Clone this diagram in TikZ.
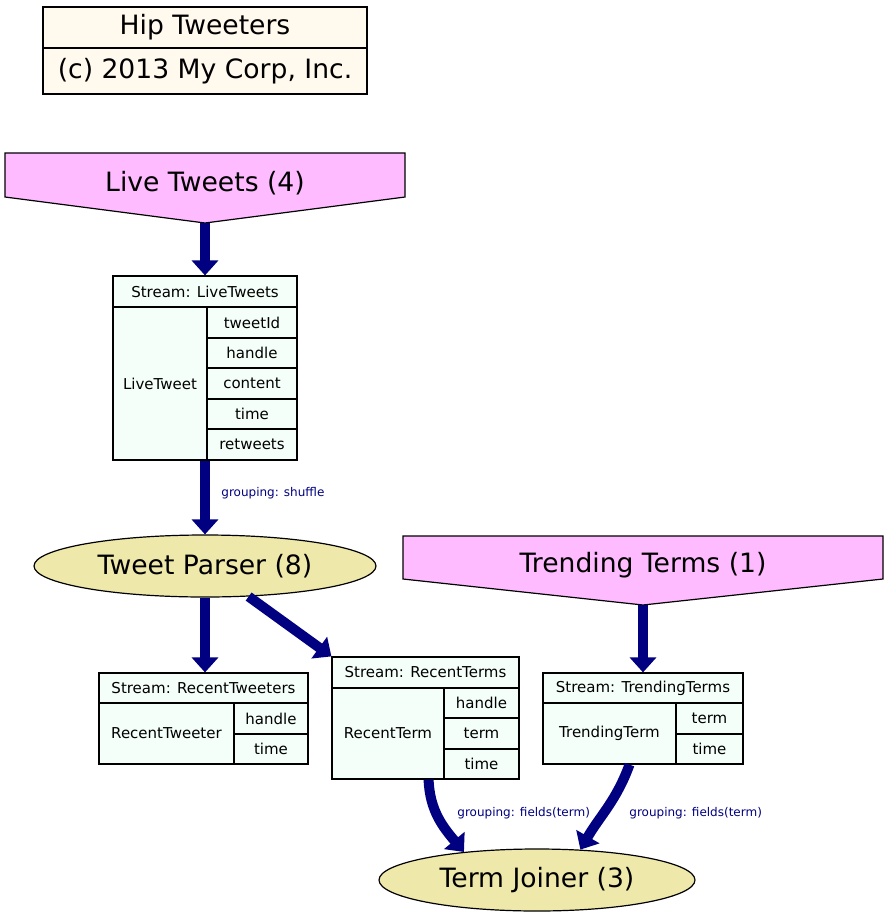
\documentclass[tikz,border=0pt]{standalone}
\usepackage{fontspec}
\setmainfont{DejaVu Sans}
\usetikzlibrary{arrows.meta,shapes.geometric}
\definecolor{plum}{HTML}{FFBBFF}
\definecolor{mint}{HTML}{F5FFFA}
\definecolor{gold}{HTML}{EEE8AA}
\definecolor{cream}{HTML}{FFF9EE}
\definecolor{navyblue}{HTML}{000080}
\tikzset{
  big/.style={font=\fontsize{13.3}{16}\selectfont},
  recbox/.style={draw, fill=mint, inner sep=0pt, line width=0.6pt, font=\fontsize{7.5}{9}\selectfont},
  titlebox/.style={draw, fill=cream, inner sep=0pt, line width=0.6pt, big},
  spout/.style={draw, fill=plum, line width=0.6pt},
  bolt/.style={ellipse, draw, fill=gold, inner sep=0pt, line width=0.6pt, big},
  flow/.style={navyblue, line width=5pt, -{Triangle[length=7.5pt,width=13pt]}},
  grp/.style={navyblue, font=\fontsize{6}{7}\selectfont, anchor=west, inner sep=0pt},
}
% one cell of a record: name, x1, y1, x2, y2, text
\newcommand{\recfield}[6]{%
  \node[recbox, minimum width={(#4-#2)*0.5pt}, minimum height={(#5-#3)*0.5pt}]
    (#1) at ({(#2+#4)/2},{(#3+#5)/2}) {#6};}
\begin{document}
\begin{tikzpicture}[x=0.5pt, y=-0.5pt]
\useasboundingbox (0,0) rectangle (888,917);
% titolo
\node[titlebox, minimum width=162pt, minimum height=20.5pt] (title) at (205,27.5) {Hip Tweeters};
\node[titlebox, minimum width=162pt, minimum height=23pt] (corp) at (205,71) {(c) 2013 My Corp, Inc.};
% spouts
\draw[spout] (5,153) -- (405,153) -- (405,197) -- (205,223) -- (5,197) -- cycle;
\node[big] (live) at (205,183) {Live Tweets (4)};
\coordinate (liveTip) at (205,223);
\draw[spout] (403,536) -- (883,536) -- (883,579) -- (643,605) -- (403,579) -- cycle;
\node[big] (trending) at (643,565) {Trending Terms (1)};
\coordinate (trendTip) at (643,605);
% stream LiveTweets
\recfield{ltHead}{113}{276}{297}{307}{Stream: LiveTweets}
\recfield{ltLeft}{113}{307}{207}{460}{LiveTweet}
\recfield{ltId}{207}{307}{297}{338}{tweetId}
\recfield{ltHandle}{207}{338}{297}{368}{handle}
\recfield{ltContent}{207}{368}{297}{399}{content}
\recfield{ltTime}{207}{399}{297}{429}{time}
\recfield{ltRetweets}{207}{429}{297}{460}{retweets}
% bolts
\node[bolt, minimum width=171pt, minimum height=31pt] (parser) at (205,566) {Tweet Parser (8)};
\node[bolt, minimum width=158pt, minimum height=31pt] (joiner) at (537,880) {Term Joiner (3)};
% stream RecentTweeters
\recfield{rwHead}{99}{673}{308}{703}{Stream: RecentTweeters}
\recfield{rwLeft}{99}{703}{234}{764}{RecentTweeter}
\recfield{rwHandle}{234}{703}{308}{734}{handle}
\recfield{rwTime}{234}{734}{308}{764}{time}
% stream RecentTerms
\recfield{rtHead}{332}{657}{519}{688}{Stream: RecentTerms}
\recfield{rtLeft}{332}{688}{444}{779}{RecentTerm}
\recfield{rtHandle}{444}{688}{519}{718}{handle}
\recfield{rtTerm}{444}{718}{519}{749}{term}
\recfield{rtTime}{444}{749}{519}{779}{time}
% stream TrendingTerms
\recfield{tdHead}{543}{673}{743}{703}{Stream: TrendingTerms}
\recfield{tdLeft}{543}{703}{676}{764}{TrendingTerm}
\recfield{tdTerm}{676}{703}{743}{734}{term}
\recfield{tdTime}{676}{734}{743}{764}{time}
% archi
\draw[flow] (liveTip) -- (ltHead.north);
\draw[flow] (parser.north |- ltLeft.south) -- (parser.north);
\node[grp] (shuffleLbl) at (221,493) {grouping: shuffle};
\draw[flow] (parser.south) -- (parser.south |- rwHead.north);
\draw[flow] (parser.-35) -- (rtHead.north west);
\draw[flow] (trendTip) -- (tdHead.north);
\draw[flow] ([xshift=-8pt]rtLeft.south east) to[out=-88, in=130] (joiner.159);
\node[grp] (fieldsA) at (457,813) {grouping: fields(term)};
\draw[flow] ([xshift=10pt]tdLeft.south) to[out=-110, in=60] (joiner.35);
\node[grp] (fieldsB) at (629,813) {grouping: fields(term)};
\end{tikzpicture}
\end{document}
